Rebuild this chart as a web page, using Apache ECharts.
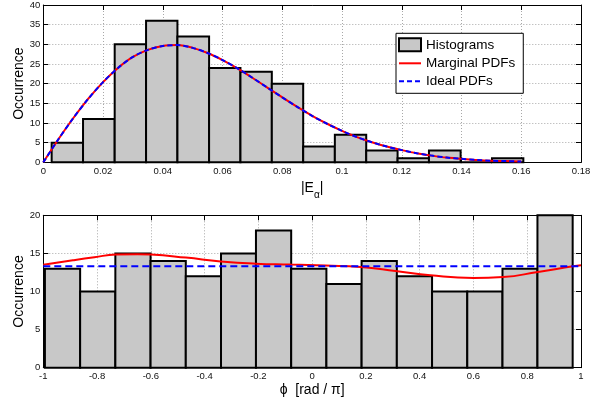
<!DOCTYPE html>
<html>
<head>
<meta charset="utf-8">
<script src="https://cdn.jsdelivr.net/npm/echarts@6/dist/echarts.min.js"></script>
<style>
html,body{margin:0;padding:0;background:#fff;}
#chart{width:596px;height:403px;}
</style>
</head>
<body>
<div id="chart"></div>
<script>
// ---- Top panel data (|E_alpha|) ----
const topEdges = [0.0028,0.0133,0.0239,0.0344,0.0449,0.0555,0.0660,0.0765,0.0870,0.0976,0.1081,0.1186,0.1291,0.1397,0.1502,0.1607];
const topCounts = [5,11,30,36,32,24,23,20,4,7,3,1,3,0,1];
const topPdfX = [0,0.005,0.01,0.015,0.02,0.025,0.03,0.035,0.04,0.045,0.05,0.055,0.06,0.065,0.07,0.075,0.08,0.085,0.09,0.095,0.1,0.105,0.11,0.115,0.12,0.125,0.13,0.135,0.14,0.145,0.15,0.155,0.16];
const topMarginal = [0,5.8,11.2,16.1,20.4,24.0,26.8,28.6,29.6,29.8,29.1,27.8,26.0,23.9,21.5,19.0,16.5,14.1,11.8,9.8,8.0,6.4,5.1,4.0,3.1,2.3,1.7,1.2,0.9,0.6,0.4,0.3,0.2];
const topIdeal = [0,5.8,11.2,16.1,20.4,24.0,26.8,28.6,29.6,29.8,29.1,27.8,26.0,23.9,21.5,19.0,16.5,14.1,11.8,9.8,8.0,6.4,5.1,4.0,3.1,2.3,1.7,1.2,0.9,0.6,0.4,0.3,0.2];

// ---- Bottom panel data (phi) ----
const botEdges = [-0.994,-0.863,-0.732,-0.601,-0.470,-0.339,-0.209,-0.078,0.053,0.184,0.315,0.446,0.577,0.708,0.838,0.969];
const botCounts = [13,10,15,14,12,15,18,13,11,14,12,10,10,13,20];
const botMarginalX = [-1,-0.89,-0.81,-0.73,-0.65,-0.6,-0.47,-0.34,-0.21,-0.08,0.05,0.18,0.31,0.44,0.6,0.71,0.84,0.97,1];
const botMarginal = [13.5,14.1,14.5,14.85,14.9,14.85,14.45,13.95,13.65,13.53,13.4,13.22,12.7,12.13,11.78,11.9,12.57,13.3,13.45];
const botIdealX = [-1,1];
const botIdeal = [13.33,13.33];

const FONT = 'Liberation Sans, Arial, Helvetica, sans-serif';
const TXT = '#111';

function hist(edges, counts){
  return counts.map((c,i)=>[edges[i], edges[i+1], c]);
}
function pairs(xs, ys){ return xs.map((x,i)=>[x, ys[i]]); }

function renderBar(params, api){
  const p0 = api.coord([api.value(0), api.value(2)]);
  const p1 = api.coord([api.value(1), 0]);
  return {
    type:'rect',
    shape:{x:p0[0], y:p0[1], width:p1[0]-p0[0], height:p1[1]-p0[1]},
    style:{fill:'#c8c8c8', stroke:'#000', lineWidth:2}
  };
}

const grids = [
  {left:43.3, top:3.3, width:537.7, height:159},
  {left:43.3, top:215.3, width:537.7, height:152.4}
];

function xMain(gi, min, max, interval, name, nameGap, nameStyle){
  return {
    type:'value', gridIndex:gi, min:min, max:max, interval:interval, position:'bottom',
    name:name, nameLocation:'middle', nameGap:nameGap, nameTextStyle:nameStyle,
    axisLine:{show:true, onZero:false, lineStyle:{color:'#000', width:1}},
    axisTick:{show:true, inside:true, length:5, lineStyle:{color:'#000'}},
    axisLabel:{show:true, margin:4, fontSize:9.5, fontFamily:FONT, color:TXT},
    splitLine:{show:true, lineStyle:{color:'#a8a8a8', type:[1,2], width:1}}
  };
}
function xTop(gi, min, max, interval){
  return {
    type:'value', gridIndex:gi, min:min, max:max, interval:interval, position:'top',
    axisLine:{show:true, onZero:false, lineStyle:{color:'#000', width:1}},
    axisTick:{show:true, inside:true, length:5, lineStyle:{color:'#000'}},
    axisLabel:{show:false}, splitLine:{show:false}
  };
}
function yMain(gi, min, max, interval){
  return {
    type:'value', gridIndex:gi, min:min, max:max, interval:interval, position:'left',
    name:'Occurrence', nameLocation:'middle', nameGap:17, nameMoveOverlap:false,
    nameTextStyle:{fontSize:14, fontFamily:FONT, color:'#000'},
    axisLine:{show:true, onZero:false, lineStyle:{color:'#000', width:1}},
    axisTick:{show:true, inside:true, length:5, lineStyle:{color:'#000'}},
    axisLabel:{show:true, margin:3, fontSize:9.5, fontFamily:FONT, color:TXT},
    splitLine:{show:true, lineStyle:{color:'#a8a8a8', type:[1,2], width:1}}
  };
}
function yRight(gi, min, max, interval){
  return {
    type:'value', gridIndex:gi, min:min, max:max, interval:interval, position:'right',
    axisLine:{show:true, onZero:false, lineStyle:{color:'#000', width:1}},
    axisTick:{show:true, inside:true, length:5, lineStyle:{color:'#000'}},
    axisLabel:{show:false}, splitLine:{show:false}
  };
}

const hiddenSymbol = {color:'rgba(0,0,0,0)', borderColor:'rgba(0,0,0,0)', borderWidth:0, opacity:0};

const option = {
  animation:false,
  backgroundColor:'#fff',
  grid:grids,
  xAxis:[
    xMain(0, 0, 0.18, 0.02, '|E{a|α}|', 14, {fontSize:14, fontFamily:FONT, color:'#000',
      rich:{a:{fontSize:10, fontFamily:FONT, color:'#000', verticalAlign:'bottom', lineHeight:24}}}),
    xTop(0, 0, 0.18, 0.02),
    xMain(1, -1, 1, 0.2, 'ϕ  [rad / π]', 15, {fontSize:14, fontFamily:FONT, color:'#000'}),
    xTop(1, -1, 1, 0.2)
  ],
  yAxis:[
    yMain(0, 0, 40, 5),
    yRight(0, 0, 40, 5),
    yMain(1, 0, 20, 5),
    yRight(1, 0, 20, 5)
  ],
  legend:{
    orient:'vertical', left:396, top:33.3,
    backgroundColor:'#fff', borderColor:'#000', borderWidth:1,
    padding:[4,8,5,2], itemGap:4, itemWidth:22, itemHeight:13,
    textStyle:{fontSize:13.5, fontFamily:FONT, color:'#000'},
    data:[
      {name:'Histograms', icon:'rect', itemStyle:{color:'#c8c8c8', borderColor:'#000', borderWidth:2}},
      {name:'Marginal PDFs', itemStyle:hiddenSymbol},
      {name:'Ideal PDFs', itemStyle:hiddenSymbol}
    ]
  },
  series:[
    {name:'Histograms', type:'custom', xAxisIndex:0, yAxisIndex:0, renderItem:renderBar,
     itemStyle:{color:'#c8c8c8', borderColor:'#000'},
     encode:{x:[0,1], y:2}, data:hist(topEdges, topCounts)},
    {name:'Marginal PDFs', type:'line', xAxisIndex:0, yAxisIndex:0, symbol:'none', smooth:0.3,
     lineStyle:{color:'#ff0000', width:2}, itemStyle:{color:'#ff0000'},
     data:pairs(topPdfX, topMarginal)},
    {name:'Ideal PDFs', type:'line', xAxisIndex:0, yAxisIndex:0, symbol:'none', smooth:0.3,
     lineStyle:{color:'#0000ff', width:2, type:[5,3]}, itemStyle:{color:'#0000ff'},
     data:pairs(topPdfX, topIdeal)},
    {name:'Histograms', type:'custom', xAxisIndex:2, yAxisIndex:2, renderItem:renderBar,
     itemStyle:{color:'#c8c8c8', borderColor:'#000'},
     encode:{x:[0,1], y:2}, data:hist(botEdges, botCounts)},
    {name:'Marginal PDFs', type:'line', xAxisIndex:2, yAxisIndex:2, symbol:'none', smooth:0.5,
     lineStyle:{color:'#ff0000', width:2}, itemStyle:{color:'#ff0000'},
     data:pairs(botMarginalX, botMarginal)},
    {name:'Ideal PDFs', type:'line', xAxisIndex:2, yAxisIndex:2, symbol:'none',
     lineStyle:{color:'#0000ff', width:2, type:[7,4]}, itemStyle:{color:'#0000ff'},
     data:pairs(botIdealX, botIdeal)}
  ]
};

const chart = echarts.init(document.getElementById('chart'), null, {renderer:'canvas'});
chart.setOption(option);
</script>
</body>
</html>
